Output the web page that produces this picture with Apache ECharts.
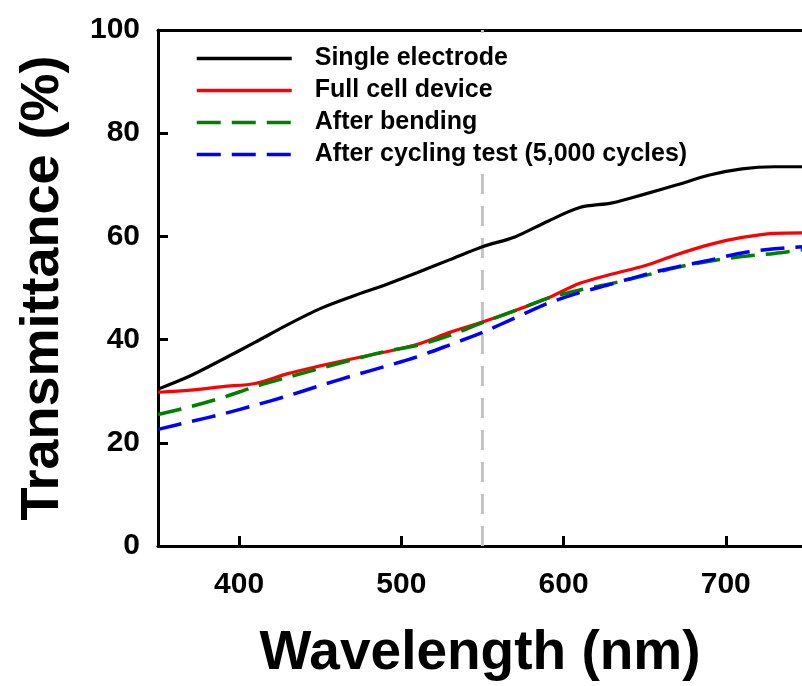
<!DOCTYPE html>
<html>
<head>
<meta charset="utf-8">
<script src="https://cdn.jsdelivr.net/npm/echarts@6/dist/echarts.min.js"></script>
<style>html,body{margin:0;padding:0;background:#fff;}#c{width:802px;height:686px;}</style>
</head>
<body>
<div id="c"></div>
<script>
const wavelengths = [350,370,390,410,430,450,470,490,510,530,550,570,590,610,630,650,670,690,710,730,747];
const singleElectrode = [30.4,33.0,36.2,39.5,42.9,46.0,48.4,50.6,53.0,55.5,58.0,59.9,62.9,65.6,66.5,68.2,70.0,71.9,73.1,73.5,73.5];
const fullCell = [29.8,30.2,30.9,31.5,33.4,34.9,36.3,37.6,39.1,41.4,43.4,45.6,48.0,50.9,52.7,54.3,56.5,58.4,59.8,60.6,60.7];
const afterBending = [25.5,27.0,28.8,30.9,32.7,34.4,36.1,37.7,38.9,40.8,43.3,45.6,48.0,49.6,50.9,52.4,54.0,55.2,56.1,56.7,57.4];
const afterCycling = [22.6,24.1,25.6,27.3,29.1,31.1,33.0,34.8,36.7,39.0,41.4,44.2,47.0,49.1,50.8,52.6,54.1,55.4,56.8,57.6,58.0];
const seriesNames = ['Single electrode','Full cell device','After bending','After cycling test (5,000 cycles)'];
const xTickValues = [400,500,600,700];
const yTicks = [0,20,40,60,80,100];
const refWavelength = 550;

const FONT = '"Liberation Sans", Arial, sans-serif';
function pairs(vals){ return wavelengths.map((w,i)=>[w, vals[i]]); }

const chart = echarts.init(document.getElementById('c'), null, {renderer:'canvas'});
const axisLineStyle = {color:'#000', width:3};
chart.setOption({
  animation:false,
  backgroundColor:'#fff',
  grid:{left:158, right:0, top:30, bottom:139, containLabel:false},
  legend:{
    data: seriesNames,
    orient:'vertical',
    left:185, top:33,
    padding:[13,4,4,10],
    backgroundColor:'#fff',
    itemWidth:95, itemHeight:14, itemGap:7,
    itemStyle:{opacity:0},
    lineStyle:{opacity:1, width:3.5},
    textStyle:{fontFamily:FONT, fontWeight:'bold', fontSize:25, color:'#000', lineHeight:25, padding:[0,0,0,18]}
  },
  xAxis:[{
    type:'value', min:350, max:747, position:'bottom',
    name:'Wavelength (nm)', nameLocation:'middle', nameGap:80,
    nameTextStyle:{fontFamily:FONT, fontWeight:'bold', fontSize:55, color:'#000'},
    axisLine:{show:true, lineStyle:axisLineStyle},
    axisTick:{show:true, inside:true, length:10, lineStyle:axisLineStyle, customValues:xTickValues},
    axisLabel:{fontFamily:FONT, fontWeight:'bold', fontSize:30, color:'#000', margin:24, customValues:xTickValues},
    splitLine:{show:false}
  },{
    type:'value', min:350, max:747, position:'top',
    axisLine:{show:true, lineStyle:axisLineStyle},
    axisTick:{show:false}, axisLabel:{show:false}, splitLine:{show:false}
  }],
  yAxis:{
    type:'value', min:0, max:100, interval:20,
    name:'Transmittance (%)', nameLocation:'middle', nameGap:88,
    nameTextStyle:{fontFamily:FONT, fontWeight:'bold', fontSize:54, color:'#000'},
    axisLine:{show:true, lineStyle:axisLineStyle},
    axisTick:{show:true, inside:true, length:10, lineStyle:axisLineStyle},
    axisLabel:{fontFamily:FONT, fontWeight:'bold', fontSize:30, color:'#000', margin:18},
    splitLine:{show:false}
  },
  series:[
    {type:'line', name:'ref', data:[[refWavelength,yTicks[0]],[refWavelength,yTicks[yTicks.length-1]]], showSymbol:false, symbol:'none', silent:true,
      lineStyle:{color:'#c4c4c4', width:3, type:[20,12]}, z:1},
    {type:'line', name:seriesNames[0], data:pairs(singleElectrode), symbol:'none', smooth:0.3, color:'#000',
      lineStyle:{color:'#000', width:3.2}, z:2},
    {type:'line', name:seriesNames[1], data:pairs(fullCell), symbol:'none', smooth:0.3, color:'#ff0000',
      lineStyle:{color:'#ff0000', width:3.2}, z:3},
    {type:'line', name:seriesNames[2], data:pairs(afterBending), symbol:'none', smooth:0.3, color:'#008000',
      lineStyle:{color:'#008000', width:3.5, type:[24,11]}, z:4},
    {type:'line', name:seriesNames[3], data:pairs(afterCycling), symbol:'none', smooth:0.3, color:'#0000ff',
      lineStyle:{color:'#0000ff', width:3.5, type:[24,11]}, z:5}
  ]
});
</script>
</body>
</html>
